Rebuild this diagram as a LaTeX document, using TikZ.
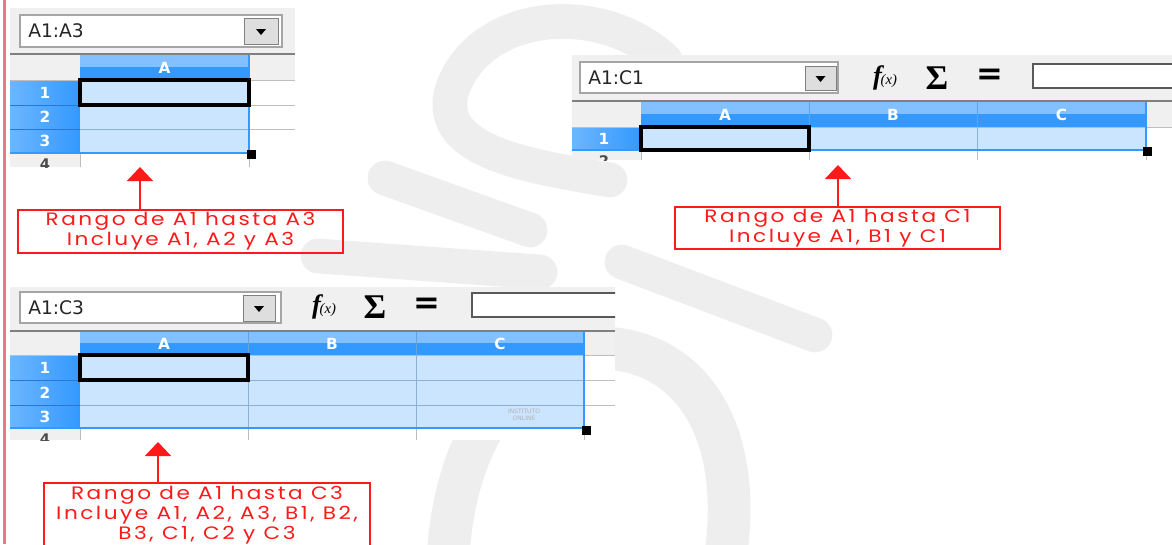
\documentclass[tikz,border=0pt]{standalone}
\usepackage{fontspec}
\usepackage{amsmath}
\usetikzlibrary{arrows.meta}
\newfontfamily\uifont{DejaVu Sans}
\newfontfamily\symfont{Liberation Serif}
\newfontfamily\lblfont[FakeStretch=1.2, LetterSpace=14]{Poppins}
\definecolor{tbgray}{HTML}{F0F0F0}
\definecolor{hdrlight}{HTML}{82C0FF}
\definecolor{hdrdark}{HTML}{3399FF}
\definecolor{rowlight}{HTML}{6CB6FF}
\definecolor{selfill}{HTML}{CCE5FF}
\definecolor{wm}{HTML}{EEEEEE}
\definecolor{lblred}{HTML}{FF1A1A}
\definecolor{sidered}{HTML}{F07878}
\definecolor{uigray}{HTML}{A5A5A5}
\definecolor{btngray}{HTML}{DEDEDE}
\definecolor{gridc}{HTML}{BEBEBE}
\definecolor{selgridc}{HTML}{8FAFD0}
\definecolor{rowsepc}{HTML}{2878D2}
\tikzset{
  namebox/.style={draw=uigray, line width=0.9pt, fill=white},
  ddbtn/.style={draw=gray, line width=0.6pt, fill=btngray},
  inbox/.style={draw=gray!70!black, line width=1.1pt, fill=white},
  tbsep/.style={draw=gray, line width=1.5pt},
  gridln/.style={draw=gridc, line width=0.6pt},
  selgrid/.style={draw=selgridc, line width=0.6pt},
  rowsep/.style={draw=rowsepc, line width=0.6pt},
  selline/.style={draw=hdrdark, line width=1.2pt},
  activecell/.style={draw=black, line width=2.3pt},
  uitext/.style={font=\uifont\fontsize{14}{14}\selectfont, text=black!85, inner sep=0pt, anchor=west},
  colhdr/.style={font=\uifont\bfseries\fontsize{11.5}{11.5}\selectfont, text=white, inner sep=0pt},
  rowhdr/.style={font=\uifont\bfseries\fontsize{11.5}{11.5}\selectfont, text=white, inner sep=0pt},
  rowhdrg/.style={font=\uifont\bfseries\fontsize{11}{11}\selectfont, text=black!70, inner sep=0pt},
  fxsym/.style={inner sep=0pt, text=black},
  lblbox/.style={draw=lblred, line width=1.1pt, text=lblred, font=\lblfont\fontsize{13.5}{15}\selectfont, align=center, inner sep=0pt},
  redarrow/.style={draw=lblred, line width=1.5pt, -{Triangle[width=19.5pt,length=10.5pt]}},
  wmstroke/.style={draw=wm, line width=26pt, line cap=round, line join=round},
  tinywm/.style={font=\uifont\fontsize{4.5}{5}\selectfont, text=gray!60, inner sep=0pt, align=center},
}
\newcommand{\fxglyph}{{\symfont\fontsize{20}{20}\selectfont\bfseries\itshape f}\kern-1pt{\symfont\fontsize{11}{11}\selectfont\itshape(x)}}
\newcommand{\sumglyph}{{\symfont\fontsize{26}{26}\selectfont\bfseries\char"03A3}}
\newcommand{\eqglyph}{{\uifont\fontsize{24}{24}\selectfont\bfseries =}}
\begin{document}
\begin{tikzpicture}[x=0.75pt,y=-0.75pt]
\useasboundingbox[fill=white] (0,0) rectangle (1172,544);
% ---------------- watermark ----------------
\draw[wmstroke] (665,60) .. controls (600,0) and (480,10) .. (452,90) .. controls (435,150) and (520,165) .. (610,180);
\draw[wmstroke] (385,178) -- (530,230);
\draw[wmstroke] (318,256) -- (540,272);
\draw[wmstroke] (622,262) -- (815,335);
\draw[wmstroke, line width=32pt] (448,560) .. controls (455,410) and (540,345) .. (605,348) .. controls (690,352) and (745,430) .. (725,560);
% side line
\fill[sidered] (3,0) rectangle (6,544);

% ================= PANEL 1 =================
\fill[tbgray] (10,8) rectangle (295,53);
\draw[namebox] (20,15) rectangle (282,47);
\node[uitext] (nb1) at (28,31) {A1:A3};
\draw[ddbtn] (244,18) rectangle (278,44);
\fill (256,29) -- (266,29) -- (261,35) -- cycle;
\draw[tbsep] (10,54) -- (295,54);
\fill[tbgray] (10,55) rectangle (295,80);
\fill[hdrlight] (80,55) rectangle (249,67);
\fill[hdrdark] (80,67) rectangle (249,80);
\node[colhdr] (p1A) at (164.5,68) {A};
\shade[left color=rowlight, right color=hdrdark] (10,80) rectangle (80,153);
\fill[selfill] (80,80) rectangle (249,153);
\fill[white] (249,80) rectangle (295,153);
\fill[white] (80,153) rectangle (295,167);
\fill[tbgray] (10,153) rectangle (80,167);
\foreach \yy in {105,129} {
  \draw[selgrid] (80,\yy) -- (249,\yy);
  \draw[gridln] (249,\yy) -- (295,\yy);
  \draw[rowsep] (10,\yy) -- (80,\yy);
}
\draw[gridln] (10,80) -- (295,80);
\draw[gridln] (80,153) -- (80,167);
\draw[gridln] (249,153) -- (249,167);
\draw[gridln] (249,55) -- (249,153);
\node[rowhdr] (p1r1) at (45,92.5) {1};
\node[rowhdr] (p1r2) at (45,117) {2};
\node[rowhdr] (p1r3) at (45,141) {3};
\begin{scope}
  \clip (10,153) rectangle (80,167);
  \node[rowhdrg] (p1r4) at (45,164) {4};
\end{scope}
\draw[selline] (249,55) -- (249,153) -- (10,153);
\draw[activecell] (80,80) rectangle (249,105);
\fill (247,150) rectangle (256,159);

% ================= PANEL 2 =================
\fill[tbgray] (572,55) rectangle (1172,100);
\draw[namebox] (580,62) rectangle (838,93);
\node[uitext] (nb2) at (588,78) {A1:C1};
\draw[ddbtn] (805,66) rectangle (836,90);
\fill (815.5,76) -- (825.5,76) -- (820.5,82) -- cycle;
\node[fxsym] (fx2) at (885,78) {\fxglyph};
\node[fxsym] (sum2) at (937,78) {\sumglyph};
\node[fxsym] (eq2) at (990,77) {\eqglyph};
\begin{scope}
  \clip (572,55) rectangle (1172,100);
  \draw[inbox] (1033,64) rectangle (1190,88);
\end{scope}
\draw[tbsep] (572,101) -- (1172,101);
\fill[tbgray] (572,102) rectangle (1172,127);
\foreach \xa/\xb in {641/809, 809/977, 977/1146} {
  \fill[hdrlight] (\xa,102) rectangle (\xb,114);
  \fill[hdrdark] (\xa,114) rectangle (\xb,127);
}
\node[colhdr] (p2A) at (725,115) {A};
\node[colhdr] (p2B) at (893,115) {B};
\node[colhdr] (p2C) at (1061.5,115) {C};
\shade[left color=rowlight, right color=hdrdark] (572,127) rectangle (641,150);
\fill[selfill] (641,127) rectangle (1146,150);
\fill[white] (1146,127) rectangle (1172,150);
\fill[white] (641,150) rectangle (1172,160);
\fill[tbgray] (572,150) rectangle (641,160);
\draw[gridln] (572,127) -- (1172,127);
\foreach \xx in {809,977} {
  \draw[rowsepc!70, line width=0.6pt] (\xx,102) -- (\xx,127);
  \draw[selgrid] (\xx,127) -- (\xx,150);
  \draw[gridln] (\xx,150) -- (\xx,160);
}
\draw[gridln] (641,150) -- (641,160);
\draw[gridln] (1146,150) -- (1146,160);
\draw[gridln] (1146,102) -- (1146,127);
\node[rowhdr] (p2r1) at (604,139) {1};
\begin{scope}
  \clip (572,150) rectangle (641,160);
  \node[rowhdrg] (p2r2) at (604,161) {2};
\end{scope}
\draw[selline] (1146,102) -- (1146,150) -- (572,150);
\draw[activecell] (641,127) rectangle (809,150);
\fill (1143,147) rectangle (1152,156);

% ================= PANEL 3 =================
\fill[tbgray] (10,287) rectangle (615,330);
\draw[namebox] (20,292) rectangle (281,323);
\node[uitext] (nb3) at (28,307.5) {A1:C3};
\draw[ddbtn] (243,295) rectangle (275,321);
\fill (254,306) -- (264,306) -- (259,312) -- cycle;
\node[fxsym] (fx3) at (324,307) {\fxglyph};
\node[fxsym] (sum3) at (375,307) {\sumglyph};
\node[fxsym] (eq3) at (427,306) {\eqglyph};
\begin{scope}
  \clip (10,287) rectangle (615,330);
  \draw[inbox] (472,293) rectangle (635,317);
\end{scope}
\draw[tbsep] (10,331) -- (615,331);
\fill[tbgray] (10,332) rectangle (615,355);
\foreach \xa/\xb in {80/248, 248/416, 416/584} {
  \fill[hdrlight] (\xa,332) rectangle (\xb,343);
  \fill[hdrdark] (\xa,343) rectangle (\xb,355);
}
\node[colhdr] (p3A) at (164,344) {A};
\node[colhdr] (p3B) at (332,344) {B};
\node[colhdr] (p3C) at (500,344) {C};
\shade[left color=rowlight, right color=hdrdark] (10,355) rectangle (80,428);
\fill[selfill] (80,355) rectangle (584,428);
\fill[white] (584,355) rectangle (615,428);
\fill[white] (80,428) rectangle (615,440);
\fill[tbgray] (10,428) rectangle (80,440);
\draw[gridln] (10,355) -- (615,355);
\foreach \yy in {380,405} {
  \draw[selgrid] (80,\yy) -- (584,\yy);
  \draw[gridln] (584,\yy) -- (615,\yy);
  \draw[rowsep] (10,\yy) -- (80,\yy);
}
\foreach \xx in {248,416} {
  \draw[rowsepc!70, line width=0.6pt] (\xx,332) -- (\xx,355);
  \draw[selgrid] (\xx,355) -- (\xx,428);
  \draw[gridln] (\xx,428) -- (\xx,440);
}
\draw[gridln] (80,428) -- (80,440);
\draw[gridln] (584,428) -- (584,440);
\draw[gridln] (584,332) -- (584,355);
\node[rowhdr] (p3r1) at (45,367.5) {1};
\node[rowhdr] (p3r2) at (45,392.5) {2};
\node[rowhdr] (p3r3) at (45,416.5) {3};
\begin{scope}
  \clip (10,428) rectangle (80,440);
  \node[rowhdrg] (p3r4) at (45,439) {4};
\end{scope}
\node[tinywm] (wm3) at (524,415) {INSTITUTO\\ONLINE};
\draw[selline] (584,332) -- (584,428) -- (10,428);
\draw[activecell] (80,355) rectangle (248,380);
\fill (582,426) rectangle (591,435);

% ================= LABELS & ARROWS =================
\node[lblbox, minimum width=243.75pt, minimum height=32.25pt] (lab1) at (180.5,231.5)
  {Rango de A1 hasta A3\\Incluye A1, A2 y A3};
\node[lblbox, minimum width=243.75pt, minimum height=31.5pt] (lab2) at (837.5,228)
  {Rango de A1 hasta C1\\Incluye A1, B1 y C1};
\node[lblbox, minimum width=244.5pt, minimum height=48pt] (lab3) at (207,515)
  {Rango de A1 hasta C3\\Incluye A1, A2, A3, B1, B2,\\B3, C1, C2 y C3};
\coordinate (tip1) at (140,167);
\coordinate (tip2) at (838,165);
\coordinate (tip3) at (158,442);
\draw[redarrow] (lab1.north -| tip1) -- (tip1);
\draw[redarrow] (lab2.north -| tip2) -- (tip2);
\draw[redarrow] (lab3.north -| tip3) -- (tip3);
\end{tikzpicture}
\end{document}
